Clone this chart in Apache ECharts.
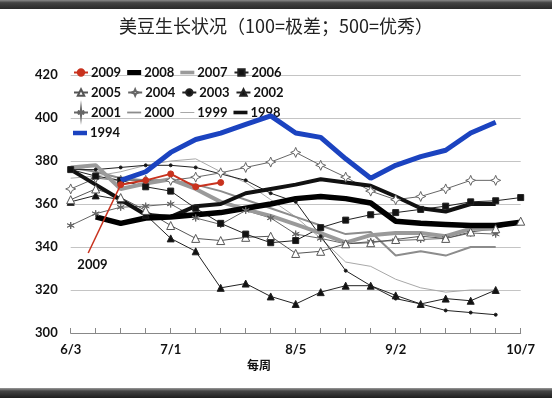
<!DOCTYPE html>
<html>
<head>
<meta charset="utf-8">
<script src="https://cdn.jsdelivr.net/npm/echarts@6/dist/echarts.min.js"></script>
<style>
html,body{margin:0;padding:0;background:#fff;}
#chart{width:552px;height:398px;}
</style>
</head>
<body>
<div id="chart"></div>
<script>
// ---- data ----
const weeks = ['6/3','6/10','6/17','6/24','7/1','7/8','7/15','7/22','7/29','8/5','8/12','8/19','8/26','9/2','9/9','9/16','9/23','9/30','10/7'];
const labeledWeeks = ['6/3','7/1','8/5','9/2','10/7'];
const yTicks = [300,320,340,360,380,400,420];

const y2009 = [null,null,369,371,374,368,370,null,null,null,null,null,null,null,null,null,null,null,null];
const y2008 = [null,354,351,353.5,354,355,356,358,360,362.5,363.5,362.5,360.5,352,351,350.5,350,350,351.5];
const y2007 = [377,378,367,369.5,371.5,367,361,357.5,354.5,350.5,346.5,342,345.5,346.5,346.5,345,348.5,348.5,null];
const y2006 = [376,373,371,368,366,358,351,346,342,343,349,352.5,355,356,357.5,359,361,361.5,363];
const y2005 = [362,367,363,357,350,344,343,344.5,345,337,338,341.5,342,343.5,345,344,347,348.5,352];
const y2004 = [367,372,371,371,371,372.5,374.5,377,379.5,384,378,372.5,366,362,363.5,367,371,371,null];
const y2003 = [376,376,377,378,378,377,374,371,365,361,345,329,322,316,313.5,310.5,309.5,308.5,null];
const y2002 = [361,364,362,355,344,338,321,323,317,313.5,319,322,322,317.5,313.5,316,315,320,null];
const y2001 = [350,355.5,358.5,359,360,353.5,350.5,357,353.5,346,344,341.5,342.5,343,343.5,344,346.5,346,null];
const y2000 = [377,375,372,371,371,369,366,362,358,354,350,346,347,336,338,336,340,340,null];
const y1999 = [372,373,375,378,380,381,375,370,362,354,344,333,331,325,321,319,320,320,null];
const y1998 = [376,369,362,355,354,359,360,365,367,369,371.5,370,368.5,363.5,358,356.5,360,360,null];
const y1994 = [null,null,371,375,384,390,393,397,401,393,391,381,372,378,382,385,393,398,null];

// callout for the 2009 label (week index, value)
const calloutFrom = [0.7, 337.2];
const calloutLabelAt = [0.87, 331.6];
const calloutLabel = '2009';

// ---- helpers ----
function pts(arr){ const out=[]; arr.forEach((v,i)=>{ if(v!==null) out.push([i,v]); }); return out; }
const FONT = 'Lato';
const star4 = 'path://M0,-10L3,-3L10,0L3,3L0,10L-3,3L-10,0L-3,-3Z';
const asterisk = 'path://M0,-10L0.8,-1.4L8.7,-5L1.6,0L8.7,5L0.8,1.4L0,10L-0.8,1.4L-8.7,5L-1.6,0L-8.7,-5L-0.8,-1.4Z';

const legendIcons = {};
function line(name, arr, color, width, symbol, symSize, fill, extra){
  const s = {
    name, type:'line', data: pts(arr),
    symbol: symbol || 'none', symbolSize: symSize || 0, showSymbol: !!symbol,
    lineStyle:{color, width},
    itemStyle:{color: fill || color, borderColor: color, borderWidth: symbol ? 1 : 0},
    emphasis:{disabled:true}, animation:false
  };
  if(!symbol){ legendIcons[name] = 'path://M0,0H14V' + Math.max(width*0.9,1) + 'H0Z'; }
  return Object.assign(s, extra||{});
}

const red = '#c8321e';
const series = [
  line('1999', y1999, '#a8a8a8', 1),
  line('2000', y2000, '#8c8c8c', 2),
  line('2001', y2001, '#666', 1, asterisk, 7, '#666'),
  line('2002', y2002, '#222', 1, 'triangle', 7, '#111'),
  line('2003', y2003, '#222', 1, 'circle', 3, '#111'),
  line('2004', y2004, '#666', 1, star4, 10, '#fff'),
  line('2005', y2005, '#555', 1, 'triangle', 8, '#fff'),
  line('2006', y2006, '#222', 1, 'rect', 6, '#111'),
  line('2007', y2007, '#9a9a9a', 4),
  line('1998', y1998, '#111', 4),
  line('2008', y2008, '#000', 5.5),
  line('1994', y1994, '#1b43c0', 5, null, 0, null, {z:4}),
  line('2009', y2009, red, 2, 'circle', 6, red, {
    z:5,
    markLine:{silent:true, symbol:['none','none'], label:{show:false},
      lineStyle:{color:red, width:1.5, type:'solid'},
      data:[[{coord:calloutFrom},{coord:[2, y2009[2]]}]]},
    markPoint:{silent:true, symbol:'circle', symbolSize:0,
      label:{show:true, position:'inside', formatter:calloutLabel, color:'#111', fontSize:13, fontWeight:'bold', fontFamily:FONT},
      data:[{coord:calloutLabelAt}]}
  })
];

const rows = [
  ['2009','2008','2007','2006'],
  ['2005','2004','2003','2002'],
  ['2001','2000','1999','1998'],
  ['1994']
];
const rowTops = [61, 81, 101, 121.5];
const legends = rows.map((r,k)=>({
  data:r.map(n => legendIcons[n] ? {name:n, icon:legendIcons[n]} : {name:n}),
  left:68, top:rowTops[k], orient:'horizontal', symbolKeepAspect:true,
  itemWidth:14, itemHeight:8, itemGap:6, selectedMode:false,
  textStyle:{fontFamily:FONT, fontSize:13, fontWeight:'bold', color:'#111', padding:[0,0,0,-2]}
}));

const chart = echarts.init(document.getElementById('chart'), null, {renderer:'canvas'});
chart.setOption({
  backgroundColor:'#fff',
  animation:false,
  title:{text:'美豆生长状况（100=极差；500=优秀）', left:'center', top:12,
    textStyle:{fontFamily:'Noto Sans CJK SC', fontSize:18, fontWeight:'normal', color:'#222'}},
  legend: legends,
  grid:{left:70.7, right:31.3, top:75, bottom:65},
  xAxis:{type:'value', min:0, max:weeks.length-1, interval:1,
    axisLine:{show:true, lineStyle:{color:'#888', width:1}},
    axisTick:{show:true, inside:true, length:5, lineStyle:{color:'#888'}},
    splitLine:{show:false},
    axisLabel:{margin:10, color:'#111', fontFamily:FONT, fontSize:13, fontWeight:'bold',
      formatter:(v)=>{ const w = weeks[Math.round(v)]; return labeledWeeks.indexOf(w)>=0 ? w : ''; }}
  },
  yAxis:{type:'value', min:yTicks[0], max:yTicks[yTicks.length-1], interval:20,
    axisLine:{show:false}, axisTick:{show:false},
    splitLine:{show:true, lineStyle:{color:'#c4c4c4', width:1}},
    axisLabel:{margin:13, color:'#111', fontFamily:FONT, fontSize:13, fontWeight:'bold'}
  },
  graphic:[
    {type:'rect', left:0, top:0, shape:{width:552, height:9},
      style:{fill:new echarts.graphic.LinearGradient(0,0,0,1,[{offset:0,color:'#8a8a8a'},{offset:0.3,color:'#444'},{offset:1,color:'#2a2a2a'}])}, silent:true},
    {type:'rect', left:0, top:388, shape:{width:552, height:10},
      style:{fill:new echarts.graphic.LinearGradient(0,0,0,1,[{offset:0,color:'#9a9a9a'},{offset:0.3,color:'#444'},{offset:1,color:'#1e1e1e'}])}, silent:true},
    {type:'text', left:247, top:359, silent:true,
      style:{text:'每周', fill:'#111', font:'bold 12px "Noto Sans CJK SC"'}}
  ],
  series
});
</script>
</body>
</html>
